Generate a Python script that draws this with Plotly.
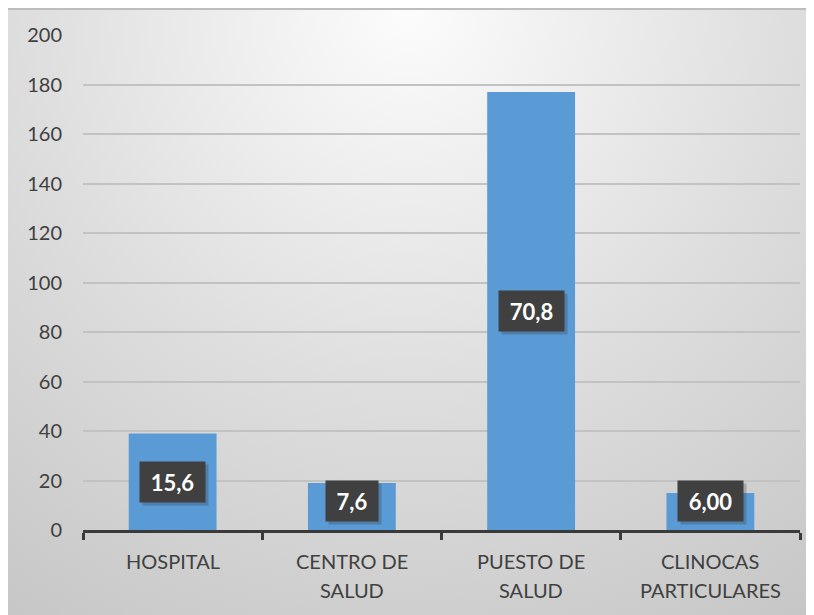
import base64
import plotly.graph_objects as go

categories = ["HOSPITAL", "CENTRO DE<br>SALUD", "PUESTO DE<br>SALUD", "CLINOCAS<br>PARTICULARES"]
counts = [39, 19, 177, 15]
labels = ["15,6", "7,6", "70,8", "6,00"]
y_ticks = [0, 20, 40, 60, 80, 100, 120, 140, 160, 180, 200]

W, H = 814, 615
L, R, T, B = 75, 22, 27, 93
PW, PH = W - L - R, H - T - B
FONT = "Lato, Open Sans, sans-serif"

svg = ("<svg xmlns='http://www.w3.org/2000/svg' width='814' height='615' viewBox='0 0 814 615' "
       "preserveAspectRatio='none'><defs><radialGradient id='g' cx='400' cy='0' r='760' "
       "gradientUnits='userSpaceOnUse'><stop offset='0' stop-color='#fcfcfc'/>"
       "<stop offset='0.5' stop-color='#dedede'/><stop offset='1' stop-color='#c4c4c4'/>"
       "</radialGradient></defs><rect width='814' height='615' fill='url(#g)'/></svg>")
bg_src = "data:image/svg+xml;base64," + base64.b64encode(svg.encode()).decode()

fig = go.Figure()
fig.add_trace(go.Bar(
    x=categories, y=counts,
    marker=dict(color="#5b9bd5", line=dict(width=0)),
    hoverinfo="skip",
))

# data labels (dark boxes with a soft shadow), kept inside the plot area for short bars
for c, v, t in zip(categories, counts, labels):
    ypos = max(v / 2, 11.6)
    fig.add_annotation(
        x=c, y=ypos, xref="x", yref="y", text=" ", xshift=3, yshift=-3,
        showarrow=False, font=dict(family=FONT, size=22, color="white"),
        bgcolor="rgba(40,40,40,0.25)", borderpad=7, width=13 * len(t) - 1, height=26,
    )
    fig.add_annotation(
        x=c, y=ypos, xref="x", yref="y", text="<b>%s</b>" % t,
        showarrow=False, font=dict(family=FONT, size=22, color="white"),
        bgcolor="#404040", borderpad=7, width=13 * len(t) - 1, height=26,
    )

# category labels (two lines with Excel-like line spacing)
for c in categories:
    for i, line in enumerate(c.split("<br>")):
        fig.add_annotation(
            x=c, y=0, xref="x", yref="paper", text=line, showarrow=False,
            yanchor="middle", yshift=-31 - 29 * i,
            font=dict(family=FONT, size=20, color="#404040"),
        )

fig.update_layout(
    width=W, height=H,
    margin=dict(l=L, r=R, t=T, b=B),
    paper_bgcolor="#e5e5e5",
    plot_bgcolor="rgba(0,0,0,0)",
    bargap=0.51,
    showlegend=False,
    font=dict(family=FONT, size=20, color="#404040"),
    images=[dict(source=bg_src, xref="paper", yref="paper", x=-L / PW, y=1 + T / PH,
                 sizex=W / PW, sizey=H / PH, xanchor="left", yanchor="top",
                 sizing="stretch", layer="below")],
    xaxis=dict(
        showline=True, linecolor="#3a3a3a", linewidth=2.5,
        ticks="outside", ticklen=7, tickcolor="#3a3a3a", tickwidth=2.5,
        tickson="boundaries", showgrid=False, showticklabels=False,
    ),
    yaxis=dict(
        range=[0, 200], tickvals=y_ticks, showgrid=True, gridcolor="#c2c2c2", gridwidth=1.5,
        zeroline=False, showline=False, ticks="", ticklabelstandoff=20,
        tickfont=dict(family=FONT, size=20, color="#404040"),
    ),
)
fig.add_shape(type="line", xref="paper", yref="paper", x0=-L / PW, x1=1 + R / PW,
              y0=1 + T / PH - 0.002, y1=1 + T / PH - 0.002,
              line=dict(color="#bdbdbd", width=2))

fig.write_html("out.html")
